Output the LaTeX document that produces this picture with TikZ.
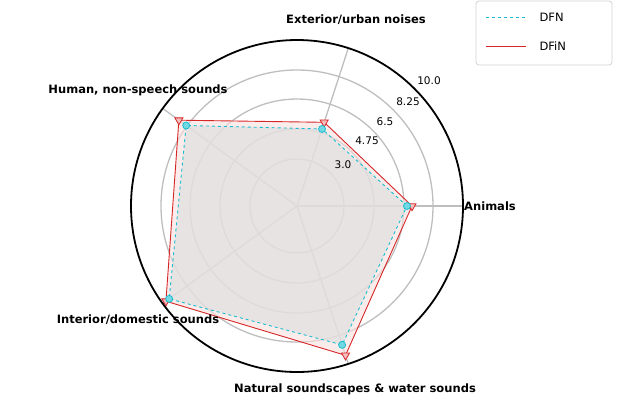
\documentclass[tikz,border=0pt]{standalone}
\usepackage{fontspec}
\setmainfont{DejaVu Sans}
\usetikzlibrary{shapes.geometric,calc}
\definecolor{dfn}{RGB}{23,190,207}
\definecolor{dfin}{RGB}{214,39,40}
\definecolor{grid}{RGB}{190,190,190}
\tikzset{
 gridc/.style={grid,line width=1.3pt},
 axlab/.style={font=\bfseries\fontsize{11.5}{13}\selectfont},
 tick/.style={font=\fontsize{10.5}{12}\selectfont},
 dfnline/.style={dfn,dashed,line width=0.9pt},
 dfinline/.style={dfin,line width=0.9pt},
 dfnmark/.style={circle,draw=dfn,fill=dfn!60,line width=0.8pt,inner sep=0pt,minimum size=7pt},
 dfinmark/.style={isosceles triangle,shape border rotate=-90,isosceles triangle apex angle=60,draw=dfin,fill=dfin!30,line width=0.8pt,inner sep=0pt,minimum size=7pt},
}
\begin{document}
\begin{tikzpicture}[x=1pt,y=-1pt]
\useasboundingbox (0,0) rectangle (618,400);
\coordinate (c) at (297,206);
% grid
\foreach \r in {47,77,107,136} \draw[gridc] (c) circle[radius=\r];
\foreach \a in {0,72,144,216,288} {
  \coordinate (e\a) at ({297+166*cos(\a)},{206-166*sin(\a)});
  \draw[gridc] (c) -- (e\a);
}
% DFiN points
\foreach \n/\a/\r in {i1/0/115,i2/72/88,i3/144/146,i4/216/162,i5/288/157}
  \coordinate (\n) at ({297+\r*cos(\a)},{206-\r*sin(\a)});
% DFN points
\foreach \n/\a/\r in {n1/0/110,n2/72/81,n3/144/137,n4/216/158,n5/288/146}
  \coordinate (\n) at ({297+\r*cos(\a)},{206-\r*sin(\a)});
% fills
\fill[dfin!15,opacity=0.6] (i1)--(i2)--(i3)--(i4)--(i5)--cycle;
\fill[gray!25,opacity=0.7] (n1)--(n2)--(n3)--(n4)--(n5)--cycle;
\draw[dfinline] (i1)--(i2)--(i3)--(i4)--(i5)--cycle;
\foreach \n in {i1,i2,i3,i4,i5} \node[dfinmark] at (\n) {};
\draw[dfnline] (n1)--(n2)--(n3)--(n4)--(n5)--cycle;
\foreach \n in {n1,n2,n3,n4,n5} \node[dfnmark] at (\n) {};
% outer
\draw[black,line width=1.8pt] (c) circle[radius=166];
% ticks
\node[tick] (t1) at (343,165) {3.0};
\node[tick] (t2) at (367,141) {4.75};
\node[tick] (t3) at (385,122) {6.5};
\node[tick] (t4) at (408,102) {8.25};
\node[tick] (t5) at (429,81) {10.0};
% labels
\node[axlab] (l1) at (490,206) {Animals};
\node[axlab] (l2) at (356,20) {Exterior/urban noises};
\node[axlab] (l3) at (138,90) {Human, non-speech sounds};
\node[axlab] (l4) at (138,320) {Interior/domestic sounds};
\node[axlab] (l5) at (355,389) {Natural soundscapes \& water sounds};
% legend
\draw[grid!70,line width=0.8pt,rounded corners=3pt,fill=white] (476,1) rectangle (612,65);
\coordinate (a1) at (486,17); \coordinate (b1) at (526,17);
\coordinate (a2) at (486,46); \coordinate (b2) at (526,46);
\draw[dfnline] (a1)--(b1);
\draw[dfinline] (a2)--(b2);
\node[font=\fontsize{11.5}{13}\selectfont,anchor=west] (g1) at (536,17) {DFN};
\node[font=\fontsize{11.5}{13}\selectfont,anchor=west] (g2) at (536,46) {DFiN};
\end{tikzpicture}
\end{document}
